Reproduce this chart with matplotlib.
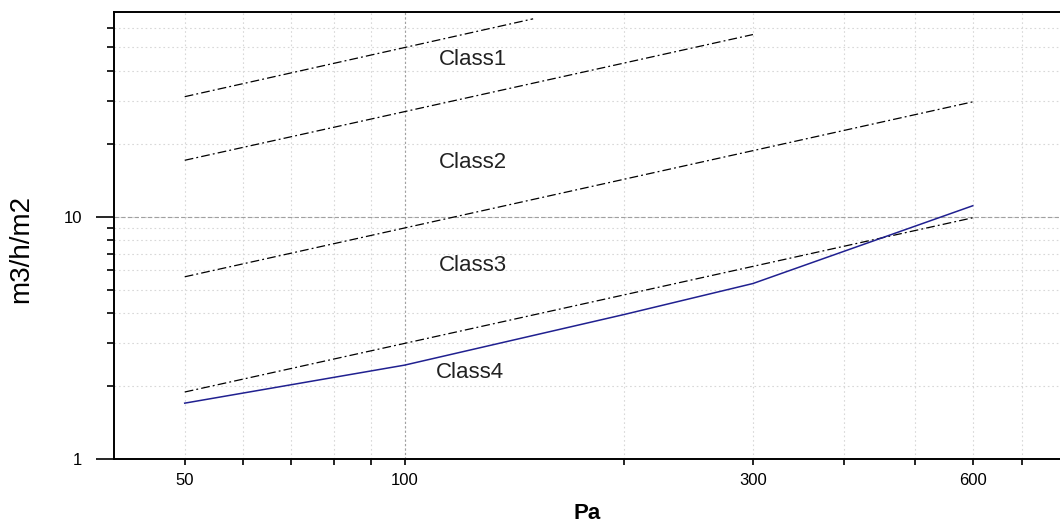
import numpy as np
import matplotlib.pyplot as plt
from matplotlib.ticker import FixedLocator, NullFormatter, FixedFormatter

# class limit lines (Pa, m3/h/m2)
class1_x = [50, 150]
class1_y = [31.3, 65.6]
class2_x = [50, 300]
class2_y = [17.1, 56.5]
class3_x = [50, 600]
class3_y = [5.65, 29.8]
class4_x = [50, 600]
class4_y = [1.89, 9.9]

# measured curve
meas_x = [50, 100, 200, 300, 600]
meas_y = [1.70, 2.44, 3.95, 5.3, 11.1]

class_names = ["Class1", "Class2", "Class3", "Class4"]
label_x = [124, 124, 124, 123]
label_y = [44.4, 16.7, 6.3, 2.28]

x_major = [50, 100, 300, 600]
x_minor = [60, 70, 80, 90, 200, 400, 500, 700]
y_major = [1, 10]
y_minor = [2, 3, 4, 5, 6, 7, 8, 9, 20, 30, 40, 50, 60]

plt.rcParams['font.family'] = ['Liberation Sans', 'DejaVu Sans']

fig = plt.figure(figsize=(10.6, 5.26), dpi=100)
ax = fig.add_axes([0.1075, 0.1274, 0.8925, 0.8498])
ax.set_xscale('log')
ax.set_yscale('log')
ax.set_xlim(40, 790)
ax.set_ylim(1, 70)

ax.set_xticks(x_major)
ax.xaxis.set_minor_locator(FixedLocator(x_minor))
ax.yaxis.set_major_locator(FixedLocator(y_major))
ax.yaxis.set_minor_locator(FixedLocator(y_minor))
ax.xaxis.set_major_formatter(FixedFormatter([str(v) for v in x_major]))
ax.xaxis.set_minor_formatter(NullFormatter())
ax.yaxis.set_major_formatter(FixedFormatter([str(v) for v in y_major]))
ax.yaxis.set_minor_formatter(NullFormatter())

# light dotted grid, darker at 10 and 100
ax.grid(True, which='both', color='#d8d8d8', linestyle=(0, (1.5, 2.5)), linewidth=0.8)
ax.axvline(100, color='#a0a0a0', linestyle=(0, (2, 2)), linewidth=0.8)
ax.axhline(10, color='#a0a0a0', linestyle=(0, (4, 2)), linewidth=0.8)

dashdot = (0, (7, 2.5, 1.5, 2.5))
for xs, ys in [(class1_x, class1_y), (class2_x, class2_y),
               (class3_x, class3_y), (class4_x, class4_y)]:
    ax.plot(xs, ys, color='black', linestyle=dashdot, linewidth=0.9)

ax.plot(meas_x, meas_y, color='#202090', linewidth=1.1)

for name, lx, ly in zip(class_names, label_x, label_y):
    ax.text(lx, ly, name, fontsize=16, ha='center', va='center', color='#222222')

ax.tick_params(axis='y', which='major', direction='out', length=13, width=1.2, labelsize=12, pad=10)
ax.tick_params(axis='y', which='minor', direction='out', length=5, width=1.2)
ax.tick_params(axis='x', which='both', direction='out', length=4, width=1.2, labelsize=12, pad=6)

for s in ['left', 'bottom', 'top']:
    ax.spines[s].set_linewidth(1.4)
ax.spines['right'].set_visible(False)

ax.set_ylabel("m3/h/m2", fontsize=20)
ax.yaxis.set_label_coords(-0.084, 0.47)
ax.set_xlabel("Pa", fontsize=16, fontweight='bold', labelpad=11)

fig.savefig("out.png", dpi=100)
